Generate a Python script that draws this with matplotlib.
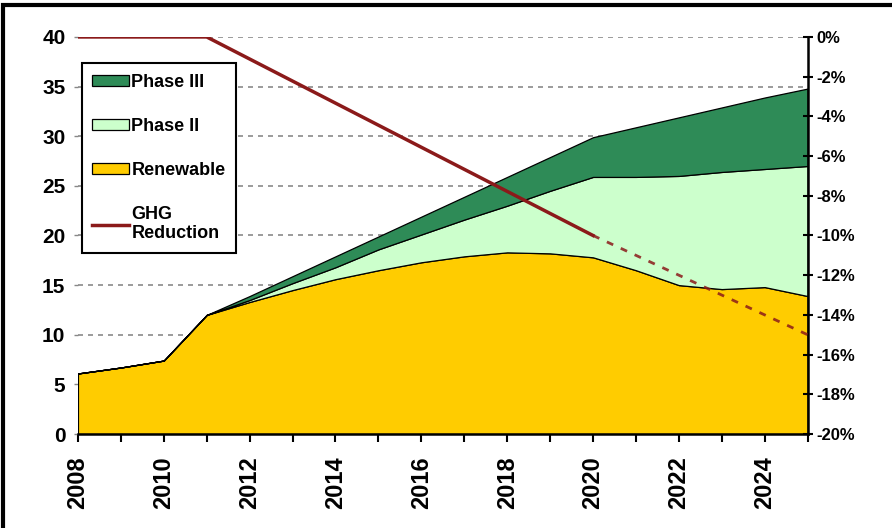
import matplotlib
matplotlib.use("Agg")
import matplotlib.pyplot as plt
from matplotlib.patches import Rectangle
from matplotlib.ticker import MultipleLocator, FuncFormatter

plt.rcParams['font.family'] = ['Liberation Sans', 'DejaVu Sans']
plt.rcParams['font.weight'] = 'bold'

years = [2008, 2009, 2010, 2011, 2012, 2013, 2014, 2015, 2016, 2017,
         2018, 2019, 2020, 2021, 2022, 2023, 2024, 2025]
renewable = [6.1, 6.7, 7.4, 12.0, 13.3, 14.5, 15.6, 16.5, 17.3, 17.9,
             18.3, 18.2, 17.8, 16.5, 15.0, 14.6, 14.8, 13.9]
phase2 = [0, 0, 0, 0, 0.2, 0.7, 1.2, 2.1, 2.8, 3.7,
          4.7, 6.3, 8.1, 9.4, 11.0, 11.8, 11.9, 13.1]
phase3 = [0, 0, 0, 0, 0.4, 0.7, 1.1, 1.3, 1.8, 2.3,
          2.9, 3.4, 4.0, 5.0, 5.9, 6.5, 7.2, 7.8]

ghg_years = [2008, 2011, 2020]
ghg_values = [0, 0, -10]
ghg_proj_years = [2020, 2025]
ghg_proj_values = [-10, -15]

c_ren = '#FFCC00'
c_p2 = '#CCFFCC'
c_p3 = '#2E8B57'
c_ghg = '#8B1A1A'

fig = plt.figure(figsize=(8.92, 5.28), dpi=100)
ax = fig.add_axes([0.0874, 0.178, 0.818, 0.752])

for yv in range(10, 41, 5):
    ax.axhline(yv, color='#8a8a8a', lw=1.2, ls=(0, (3, 3)), zorder=0)

polys = ax.stackplot(years, renewable, phase2, phase3,
                     colors=[c_ren, c_p2, c_p3],
                     labels=['Renewable', 'Phase II', 'Phase III'],
                     edgecolor='black', linewidth=0.9, zorder=2)

ax.set_xlim(2008, 2025)
ax.set_ylim(0, 40)
ax.xaxis.set_major_locator(MultipleLocator(2))
ax.xaxis.set_minor_locator(MultipleLocator(1))
ax.yaxis.set_major_locator(MultipleLocator(5))
ax.tick_params(axis='x', which='both', direction='out', length=6, width=1.5,
               labelsize=17, labelrotation=90, pad=10)
ax.tick_params(axis='y', direction='out', length=3, width=1, labelsize=15, pad=6,
               color='#888888')
for lbl in ax.get_xticklabels() + ax.get_yticklabels():
    lbl.set_fontweight('bold')
ax.spines['top'].set_visible(False)
ax.spines['left'].set_visible(False)
ax.spines['right'].set_visible(False)
ax.spines['bottom'].set_linewidth(1.8)
ax.spines['bottom'].set_zorder(5)

ax2 = ax.twinx()
ax2.set_ylim(-20, 0)
ax2.yaxis.set_major_locator(MultipleLocator(2))
ax2.yaxis.set_major_formatter(FuncFormatter(lambda v, p: f"{int(round(v))}%"))
ax2.tick_params(axis='y', direction='inout', length=7, width=1.5, labelsize=12, pad=3)
for lbl in ax2.get_yticklabels():
    lbl.set_fontweight('bold')
ax2.spines['top'].set_visible(False)
ax2.spines['left'].set_visible(False)
ax2.spines['bottom'].set_visible(False)
ax2.spines['right'].set_linewidth(1.8)

ghg_line, = ax2.plot(ghg_years, ghg_values, color=c_ghg, lw=2.5,
                     label='GHG\nReduction', zorder=4)
ax2.plot(ghg_proj_years, ghg_proj_values, color=c_ghg, lw=2,
         ls=(0, (2.5, 3)), zorder=4, alpha=0.85)

handles = [polys[2], polys[1], polys[0], ghg_line]
labels = ['Phase III', 'Phase II', 'Renewable', 'GHG\nReduction']
leg = ax2.legend(handles, labels, loc='upper left',
                 bbox_to_anchor=(0.005, 0.935), frameon=True, fancybox=False,
                 edgecolor='black', framealpha=1, fontsize=13,
                 labelspacing=1.5, handlelength=2.0, handleheight=0.55,
                 handletextpad=0.15, borderpad=0.6, borderaxespad=0)
leg.get_frame().set_linewidth(1.5)
for t in leg.get_texts():
    t.set_fontweight('bold')

fig.patches.append(Rectangle((3 / 892, -0.05), 1.2, 1 - 5 / 528 + 0.05,
                             transform=fig.transFigure, fill=False,
                             edgecolor='black', lw=3))

fig.savefig('out.png', dpi=100)
